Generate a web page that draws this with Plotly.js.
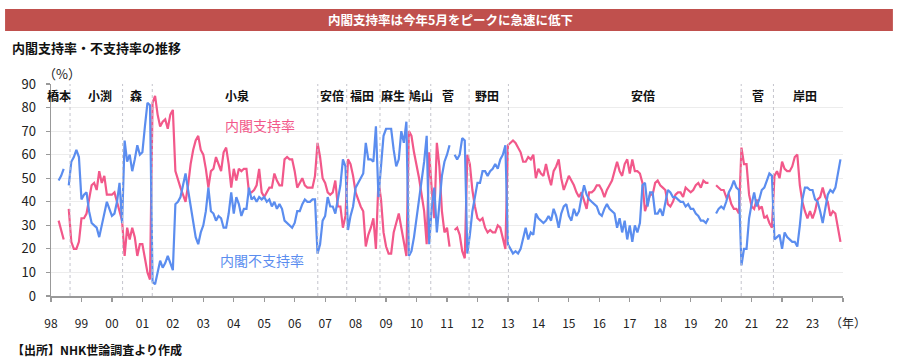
<!DOCTYPE html>
<html>
<head>
<meta charset="utf-8">
<script src="https://cdn.plot.ly/plotly-3.0.1.min.js"></script>
<style>
html,body{margin:0;padding:0;background:#fff;}
#chart{width:900px;height:364px;}
</style>
</head>
<body>
<div id="chart"></div>
<script>
// ---- data (monthly NHK poll, Jan 1998 .. Dec 2023; null = no survey) ----
const yearLabels = ['98','99','00','01','02','03','04','05','06','07','08','09','10',
  '11','12','13','14','15','16','17','18','19','20','21','22','23'];

const approval = [
  null,null,null,32,28,24,null,37,23,20,20,23,   // 1998
  33,33,35,41,47,48,45,53,48,51,43,43,           // 1999
  43,44,40,37,32,17,29,24,29,25,17,22,           // 2000
  22,16,10,7,82,85,77,72,74,75,71,77,            // 2001
  79,53,49,46,43,40,47,56,62,66,68,62,           // 2002
  60,54,46,53,54,59,56,53,61,63,56,46,           // 2003
  54,49,54,53,54,54,44,44,45,47,54,44,           // 2004
  42,44,46,46,52,49,47,47,58,59,58,58,           // 2005
  53,46,48,50,47,46,46,46,51,65,59,50,           // 2006
  48,44,43,44,49,38,38,29,34,58,56,51,           // 2007
  44,41,38,36,21,26,29,33,20,49,41,27,           // 2008
  21,18,18,27,31,35,29,23,17,70,68,61,           // 2009
  56,50,43,36,22,61,45,33,65,55,36,27,           // 2010
  29,21,null,28,29,26,19,16,60,56,45,38,         // 2011
  33,32,33,29,27,28,27,27,30,29,24,20,           // 2012
  64,65,66,65,63,61,57,57,59,58,60,50,           // 2013
  54,52,51,56,51,47,53,55,58,50,45,48,           // 2014
  51,49,47,44,42,44,40,37,44,44,45,47,           // 2015
  47,45,42,45,47,49,53,57,53,51,56,58,           // 2016
  52,58,53,53,52,48,36,40,43,43,48,49,           // 2017
  47,46,45,39,38,40,43,44,44,42,46,45,           // 2018
  44,45,47,48,46,49,48,48,null,null,47,46,       // 2019
  45,45,42,43,39,37,37,35,63,56,56,43,           // 2020
  38,37,41,37,38,33,34,31,29,51,53,50,           // 2021
  57,54,53,53,55,59,60,47,40,36,33,36,           // 2022
  33,36,41,42,46,42,40,34,36,35,29,23            // 2023
];

const disapproval = [
  null,null,null,49,51,54,null,47,57,59,62,59,   // 1998
  41,43,44,36,31,30,29,25,30,35,40,37,           // 1999
  34,35,40,48,31,66,57,60,53,58,64,60,           // 2000
  61,72,82,81,6,5,10,15,12,14,17,14,             // 2001
  11,39,40,42,47,52,45,38,30,25,22,27,           // 2002
  30,36,46,36,35,32,34,33,29,29,35,44,           // 2003
  35,42,39,34,37,37,46,41,42,40,42,41,           // 2004
  42,40,41,38,40,37,39,37,32,31,30,29,           // 2005
  31,36,36,39,41,40,40,41,41,18,22,32,           // 2006
  34,42,38,38,35,41,47,58,55,28,34,38,           // 2007
  46,48,50,52,65,58,58,57,72,42,55,68,           // 2008
  71,71,71,62,55,58,70,65,74,17,19,25,           // 2009
  33,39,47,57,68,22,38,46,27,39,51,57,           // 2010
  60,64,null,60,58,60,67,66,18,26,36,42,         // 2011
  48,48,53,53,51,53,54,56,54,58,60,64,           // 2012
  22,20,18,19,18,20,25,29,24,27,26,35,           // 2013
  33,32,31,32,34,32,37,34,29,35,38,39,           // 2014
  34,32,37,34,36,42,47,43,41,40,39,38,           // 2015
  35,34,37,39,37,36,35,29,33,27,32,24,           // 2016
  30,23,30,27,31,47,48,38,44,44,35,35,           // 2017
  37,34,40,45,44,42,42,41,40,40,38,39,           // 2018
  37,37,35,34,32,32,31,33,null,null,35,37,       // 2019
  38,37,40,44,46,49,46,45,13,20,20,33,           // 2020
  39,44,38,41,45,46,49,52,51,24,25,26,           // 2021
  20,27,25,24,23,23,21,30,41,46,46,45,           // 2022
  45,41,40,36,31,37,43,45,44,46,53,58            // 2023
];

// cabinets and the month (index from Jan 1998) at which each change happened
const cabinetNames = ['橋本','小渕','森','小泉','安倍','福田','麻生','鳩山','菅','野田','安倍','菅','岸田'];
const cabinetChanges = [7.5, 28.2, 39.9, 105.1, 116.5, 129.6, 141.1, 149.6, 164.7, 180.2, 271.9, 284.6];

// ---- build ----
const months = approval.map((_, i) => i);
const PINK = '#F2588A';
const BLUE = '#5B8DEF';
const FONT = '"Noto Sans CJK JP", "Noto Sans", sans-serif';

const traces = [
  {x: months, y: approval, type: 'scatter', mode: 'lines', name: '内閣支持率',
   line: {color: PINK, width: 2.2}, connectgaps: false},
  {x: months, y: disapproval, type: 'scatter', mode: 'lines', name: '内閣不支持率',
   line: {color: BLUE, width: 2.2}, connectgaps: false}
];

const tickvals = yearLabels.map((_, i) => i * 12).concat([yearLabels.length * 12]);
const ticktext = yearLabels.concat(['']);

// label placement (layout only)
const labelX = [3.3, 19.3, 33.5, 73.2, 110.6, 122.4, 134.9, 145.7, 156.5, 171.7, 233.4, 278.4, 297.1];

const shapes = cabinetChanges.map(m => ({
  type: 'line', xref: 'x', yref: 'paper', x0: m, x1: m, y0: 0, y1: 1,
  line: {color: '#c4c4cc', width: 1, dash: 'dot'}
}));
// header banner
shapes.push({type: 'rect', xref: 'paper', yref: 'paper', x0: -0.058, x1: 1.063,
  y0: 1.25, y1: 1.354, fillcolor: '#C0504D', line: {width: 0}, layer: 'below'});

function note(o) {
  return Object.assign({showarrow: false, xanchor: 'center', yanchor: 'middle'}, o);
}

const annotations = cabinetNames.map((n, i) => note({
  x: labelX[i], y: 85.3, xref: 'x', yref: 'y', text: '<b>' + n + '</b>',
  font: {family: FONT, size: 12, color: '#111'}
}));

annotations.push(
  note({x: 82.3, y: 72.6, xref: 'x', yref: 'y', text: '内閣支持率',
   font: {family: FONT, size: 14, color: PINK}}),
  note({x: 83, y: 15.3, xref: 'x', yref: 'y', text: '内閣不支持率',
   font: {family: FONT, size: 14, color: BLUE}}),
  note({x: 0.504, y: 1.302, xref: 'paper', yref: 'paper',
   text: '<b>内閣支持率は今年5月をピークに急速に低下</b>',
   font: {family: FONT, size: 12.5, color: '#fff'}}),
  note({x: -0.052, y: 1.1745, xref: 'paper', yref: 'paper', xanchor: 'left',
   text: '<b>内閣支持率・不支持率の推移</b>',
   font: {family: FONT, size: 13, color: '#111'}}),
  note({x: -0.052, y: -0.25, xref: 'paper', yref: 'paper', xanchor: 'left',
   text: '<b>【出所】NHK世論調査より作成</b>',
   font: {family: FONT, size: 12, color: '#111'}}),
  note({x: 0.0139, y: 1.05, xref: 'paper', yref: 'paper', text: '（%）',
   font: {family: FONT, size: 13, color: '#222'}}),
  note({x: 1.006, y: -0.127, xref: 'paper', yref: 'paper', text: '（年）',
   font: {family: FONT, size: 12, color: '#222'}})
);

const layout = {
  width: 900, height: 364,
  margin: {l: 51, r: 57, t: 84, b: 68, pad: 0},
  paper_bgcolor: '#fff', plot_bgcolor: '#fff',
  showlegend: false,
  font: {family: FONT, color: '#222'},
  xaxis: {
    range: [0, 312], tickmode: 'array', tickvals: tickvals, ticktext: ticktext,
    showgrid: false, zeroline: false, showline: true, linecolor: '#999', linewidth: 1.5,
    ticks: 'outside', ticklen: 4, tickcolor: '#999', tickwidth: 1.2,
    tickfont: {family: FONT, size: 12, color: '#222'}, ticklabelstandoff: 12
  },
  yaxis: {
    range: [0, 90], dtick: 10, showgrid: true, gridcolor: '#ececec', gridwidth: 1,
    zeroline: false, showline: true, linecolor: '#999', linewidth: 1.5,
    ticks: 'outside', ticklen: 4, tickcolor: '#999', tickwidth: 1.2,
    tickfont: {family: FONT, size: 13, color: '#222'}, ticklabelstandoff: 7
  },
  shapes: shapes,
  annotations: annotations
};

Plotly.newPlot('chart', traces, layout, {staticPlot: true, displayModeBar: false});
</script>
</body>
</html>
